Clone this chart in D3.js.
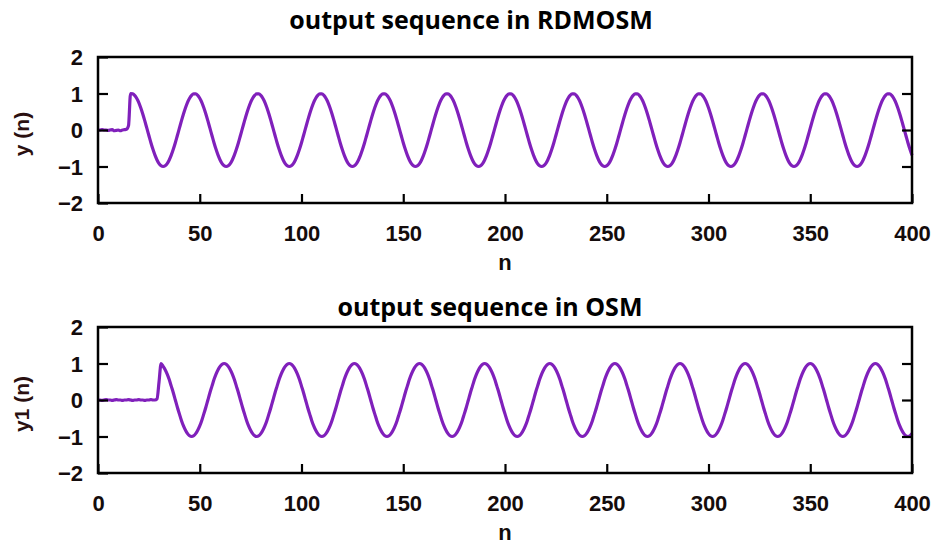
<!DOCTYPE html>
<html>
<head>
<meta charset="utf-8">
<script src="https://cdn.jsdelivr.net/npm/d3@7/dist/d3.min.js"></script>
<style>
  html, body { margin: 0; padding: 0; background: #fff; }
  svg { display: block; }
</style>
</head>
<body>
<svg id="chart" width="938" height="546"></svg>
<script>
// Output sequence y(n) of the RDMOSM system, n = 0..400
const yRDMOSM = [
  0, 0, 0.01, 0, 0, -0.01, 0, 0.01, -0.02, -0.01, 0, -0.02, 0, 0.01, 0.02, 0.12,
  1.00, 0.99, 0.95, 0.87, 0.76, 0.61, 0.44, 0.25, 0.05, -0.15, -0.35, -0.53, -0.69, -0.82, -0.92, -0.98, -1.00, -0.98, -0.92, -0.82, -0.69, -0.53, -0.35, -0.15, 0.05, 0.25, 0.44, 0.61, 0.76, 0.87, 0.95,
  0.99, 0.99, 0.95, 0.87, 0.76, 0.61, 0.44, 0.25, 0.05, -0.15, -0.35, -0.53, -0.69, -0.82, -0.92, -0.98, -1.00, -0.98, -0.92, -0.82, -0.69, -0.53, -0.35, -0.15, 0.05, 0.25, 0.44, 0.61, 0.76, 0.87, 0.95,
  0.99, 0.99, 0.95, 0.87, 0.76, 0.61, 0.44, 0.25, 0.05, -0.15, -0.35, -0.53, -0.69, -0.82, -0.92, -0.98, -1.00, -0.98, -0.92, -0.82, -0.69, -0.53, -0.35, -0.15, 0.05, 0.25, 0.44, 0.61, 0.76, 0.87, 0.95,
  0.99, 0.99, 0.95, 0.87, 0.76, 0.61, 0.44, 0.25, 0.05, -0.15, -0.35, -0.53, -0.69, -0.82, -0.92, -0.98, -1.00, -0.98, -0.92, -0.82, -0.69, -0.53, -0.35, -0.15, 0.05, 0.25, 0.44, 0.61, 0.76, 0.87, 0.95,
  0.99, 0.99, 0.95, 0.87, 0.76, 0.61, 0.44, 0.25, 0.05, -0.15, -0.35, -0.53, -0.69, -0.82, -0.92, -0.98, -1.00, -0.98, -0.92, -0.82, -0.69, -0.53, -0.35, -0.15, 0.05, 0.25, 0.44, 0.61, 0.76, 0.87, 0.95,
  0.99, 0.99, 0.95, 0.87, 0.76, 0.61, 0.44, 0.25, 0.05, -0.15, -0.35, -0.53, -0.69, -0.82, -0.92, -0.98, -1.00, -0.98, -0.92, -0.82, -0.69, -0.53, -0.35, -0.15, 0.05, 0.25, 0.44, 0.61, 0.76, 0.87, 0.95,
  0.99, 0.99, 0.95, 0.87, 0.76, 0.61, 0.44, 0.25, 0.05, -0.15, -0.35, -0.53, -0.69, -0.82, -0.92, -0.98, -1.00, -0.98, -0.92, -0.82, -0.69, -0.53, -0.35, -0.15, 0.05, 0.25, 0.44, 0.61, 0.76, 0.87, 0.95,
  0.99, 0.99, 0.95, 0.87, 0.76, 0.61, 0.44, 0.25, 0.05, -0.15, -0.35, -0.53, -0.69, -0.82, -0.92, -0.98, -1.00, -0.98, -0.92, -0.82, -0.69, -0.53, -0.35, -0.15, 0.05, 0.25, 0.44, 0.61, 0.76, 0.87, 0.95,
  0.99, 0.99, 0.95, 0.87, 0.76, 0.61, 0.44, 0.25, 0.05, -0.15, -0.35, -0.53, -0.69, -0.82, -0.92, -0.98, -1.00, -0.98, -0.92, -0.82, -0.69, -0.53, -0.35, -0.15, 0.05, 0.25, 0.44, 0.61, 0.76, 0.87, 0.95,
  0.99, 0.99, 0.95, 0.87, 0.76, 0.61, 0.44, 0.25, 0.05, -0.15, -0.35, -0.53, -0.69, -0.82, -0.92, -0.98, -1.00, -0.98, -0.92, -0.82, -0.69, -0.53, -0.35, -0.15, 0.05, 0.25, 0.44, 0.61, 0.76, 0.87, 0.95,
  0.99, 0.99, 0.95, 0.87, 0.76, 0.61, 0.44, 0.25, 0.05, -0.15, -0.35, -0.53, -0.69, -0.82, -0.92, -0.98, -1.00, -0.98, -0.92, -0.82, -0.69, -0.53, -0.35, -0.15, 0.05, 0.25, 0.44, 0.61, 0.76, 0.87, 0.95,
  0.99, 0.99, 0.95, 0.87, 0.76, 0.61, 0.44, 0.25, 0.05, -0.15, -0.35, -0.53, -0.69, -0.82, -0.92, -0.98, -1.00, -0.98, -0.92, -0.82, -0.69, -0.53, -0.35, -0.15, 0.05, 0.25, 0.44, 0.61, 0.76, 0.87, 0.95,
  0.99, 0.99, 0.95, 0.87, 0.76, 0.61, 0.44, 0.25, 0.05, -0.15, -0.35, -0.53, -0.69
];

// Output sequence y1(n) of the OSM system, n = 0..400
const yOSM = [
  0, 0, -0.01, 0, 0.01, 0, 0, -0.01, 0, 0.01, 0, 0, -0.01, 0, 0, 0.01, 0, -0.01, 0, 0, 0.01, 0, 0, -0.01, 0, 0, 0.01, 0, 0, 0.03, 0.50, 1.00,
  0.92, 0.83, 0.71, 0.56, 0.38, 0.20, 0, -0.20, -0.38, -0.56, -0.71, -0.83, -0.92, -0.98, -1.00, -0.98, -0.92, -0.83, -0.71, -0.56, -0.38, -0.20, 0, 0.20, 0.38, 0.56, 0.71, 0.83, 0.92, 0.98,
  1.00, 0.98, 0.92, 0.83, 0.71, 0.56, 0.38, 0.20, 0, -0.20, -0.38, -0.56, -0.71, -0.83, -0.92, -0.98, -1.00, -0.98, -0.92, -0.83, -0.71, -0.56, -0.38, -0.20, 0, 0.20, 0.38, 0.56, 0.71, 0.83, 0.92, 0.98,
  1.00, 0.98, 0.92, 0.83, 0.71, 0.56, 0.38, 0.20, 0, -0.20, -0.38, -0.56, -0.71, -0.83, -0.92, -0.98, -1.00, -0.98, -0.92, -0.83, -0.71, -0.56, -0.38, -0.20, 0, 0.20, 0.38, 0.56, 0.71, 0.83, 0.92, 0.98,
  1.00, 0.98, 0.92, 0.83, 0.71, 0.56, 0.38, 0.20, 0, -0.20, -0.38, -0.56, -0.71, -0.83, -0.92, -0.98, -1.00, -0.98, -0.92, -0.83, -0.71, -0.56, -0.38, -0.20, 0, 0.20, 0.38, 0.56, 0.71, 0.83, 0.92, 0.98,
  1.00, 0.98, 0.92, 0.83, 0.71, 0.56, 0.38, 0.20, 0, -0.20, -0.38, -0.56, -0.71, -0.83, -0.92, -0.98, -1.00, -0.98, -0.92, -0.83, -0.71, -0.56, -0.38, -0.20, 0, 0.20, 0.38, 0.56, 0.71, 0.83, 0.92, 0.98,
  1.00, 0.98, 0.92, 0.83, 0.71, 0.56, 0.38, 0.20, 0, -0.20, -0.38, -0.56, -0.71, -0.83, -0.92, -0.98, -1.00, -0.98, -0.92, -0.83, -0.71, -0.56, -0.38, -0.20, 0, 0.20, 0.38, 0.56, 0.71, 0.83, 0.92, 0.98,
  1.00, 0.98, 0.92, 0.83, 0.71, 0.56, 0.38, 0.20, 0, -0.20, -0.38, -0.56, -0.71, -0.83, -0.92, -0.98, -1.00, -0.98, -0.92, -0.83, -0.71, -0.56, -0.38, -0.20, 0, 0.20, 0.38, 0.56, 0.71, 0.83, 0.92, 0.98,
  1.00, 0.98, 0.92, 0.83, 0.71, 0.56, 0.38, 0.20, 0, -0.20, -0.38, -0.56, -0.71, -0.83, -0.92, -0.98, -1.00, -0.98, -0.92, -0.83, -0.71, -0.56, -0.38, -0.20, 0, 0.20, 0.38, 0.56, 0.71, 0.83, 0.92, 0.98,
  1.00, 0.98, 0.92, 0.83, 0.71, 0.56, 0.38, 0.20, 0, -0.20, -0.38, -0.56, -0.71, -0.83, -0.92, -0.98, -1.00, -0.98, -0.92, -0.83, -0.71, -0.56, -0.38, -0.20, 0, 0.20, 0.38, 0.56, 0.71, 0.83, 0.92, 0.98,
  1.00, 0.98, 0.92, 0.83, 0.71, 0.56, 0.38, 0.20, 0, -0.20, -0.38, -0.56, -0.71, -0.83, -0.92, -0.98, -1.00, -0.98, -0.92, -0.83, -0.71, -0.56, -0.38, -0.20, 0, 0.20, 0.38, 0.56, 0.71, 0.83, 0.92, 0.98,
  1.00, 0.98, 0.92, 0.83, 0.71, 0.56, 0.38, 0.20, 0, -0.20, -0.38, -0.56, -0.71, -0.83, -0.92, -0.98, -1.00, -0.98, -0.92, -0.83, -0.71, -0.56, -0.38, -0.20, 0, 0.20, 0.38, 0.56, 0.71, 0.83, 0.92, 0.98,
  1.00, 0.98, 0.92, 0.83, 0.71, 0.56, 0.38, 0.20, 0, -0.20, -0.38, -0.56, -0.71, -0.83, -0.92, -0.98, -1.00, -0.98, -0.92
];

const xTicks = [0, 50, 100, 150, 200, 250, 300, 350, 400];
const yTicks = [-2, -1, 0, 1, 2];
const xDomain = [0, 400];
const yDomain = [-2, 2];

const panels = [
  { title: "output sequence in RDMOSM", yLabel: "y (n)",  values: yRDMOSM, top: 57,  titleX: 471, titleY: 29 },
  { title: "output sequence in OSM",    yLabel: "y1 (n)", values: yOSM,    top: 327, titleX: 490, titleY: 316 }
];

const svg = d3.select("#chart");
const left = 98, right = 912, plotH = 146;
const lineColor = "#8020bb";
const tickFont = "'Liberation Sans', Arial, sans-serif";
const inkColor = "#140c0c";

const x = d3.scaleLinear().domain(xDomain).range([left, right]);

panels.forEach(p => {
  const y = d3.scaleLinear().domain(yDomain).range([p.top + plotH, p.top]);

  // title
  svg.append("text")
    .attr("x", p.titleX).attr("y", p.titleY)
    .attr("text-anchor", "middle")
    .style("font-family", "'Open Sans', Lato, sans-serif")
    .style("font-weight", 700)
    .style("font-size", "25px")
    .style("fill", "#000")
    .text(p.title);

  // data line
  const line = d3.line()
    .x((d, i) => x(i))
    .y(d => y(d))
    .curve(d3.curveMonotoneX);

  svg.append("path")
    .datum(p.values)
    .attr("d", line)
    .attr("fill", "none")
    .attr("stroke", lineColor)
    .attr("stroke-width", 3.2)
    .attr("stroke-linejoin", "round");

  // bottom axis, ticks pointing inward
  const gx = svg.append("g")
    .attr("transform", `translate(0,${p.top + plotH})`)
    .call(d3.axisBottom(x).tickValues(xTicks).tickSizeInner(-9).tickSizeOuter(0).tickPadding(22));
  // left axis
  const gy = svg.append("g")
    .attr("transform", `translate(${left},0)`)
    .call(d3.axisLeft(y).tickValues(yTicks).tickSizeInner(-10).tickSizeOuter(0).tickPadding(15)
      .tickFormat(d => d < 0 ? "\u2212" + Math.abs(d) : String(d)));
  // right axis, ticks only
  const gr = svg.append("g")
    .attr("transform", `translate(${right},0)`)
    .call(d3.axisRight(y).tickValues([-1, 0, 1]).tickSizeInner(-10).tickSizeOuter(0).tickFormat(""));

  [gx, gy, gr].forEach(g => {
    g.select(".domain").remove();
    g.selectAll(".tick line").attr("stroke", "#000").attr("stroke-width", 2.2);
    g.selectAll(".tick text")
      .style("font-family", tickFont)
      .style("font-weight", 700)
      .style("font-size", "22px")
      .style("fill", inkColor);
  });
  gy.selectAll(".tick text").attr("dy", "0.36em");

  // frame
  svg.append("rect")
    .attr("x", left).attr("y", p.top)
    .attr("width", right - left).attr("height", plotH)
    .attr("fill", "none")
    .attr("stroke", "#000")
    .attr("stroke-width", 2.5);

  // axis titles
  svg.append("text")
    .attr("x", (left + right) / 2)
    .attr("y", p.top + plotH + 67)
    .attr("text-anchor", "middle")
    .style("font-family", tickFont)
    .style("font-weight", 700)
    .style("font-size", "22px")
    .style("fill", inkColor)
    .text("n");

  svg.append("text")
    .attr("transform", `translate(29,${p.top + plotH / 2 + 4}) rotate(-90)`)
    .attr("text-anchor", "middle")
    .style("font-family", tickFont)
    .style("font-weight", 700)
    .style("font-size", "21px")
    .style("fill", "#2a1010")
    .text(p.yLabel);
});
</script>
</body>
</html>
